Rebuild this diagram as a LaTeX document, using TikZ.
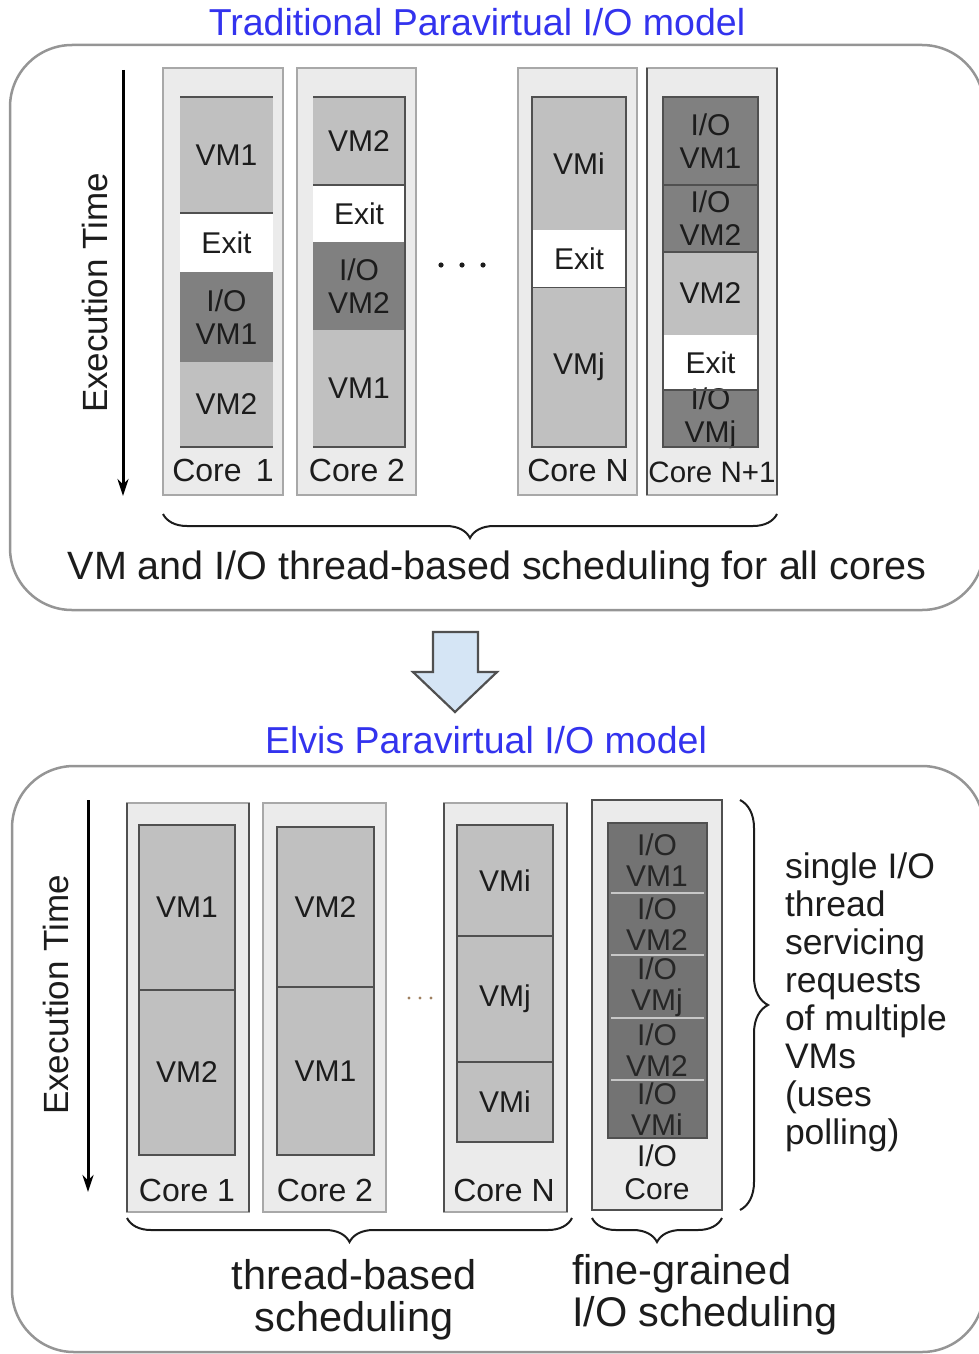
\documentclass[tikz,border=0pt]{standalone}
\usepackage{fontspec}
\setmainfont{Liberation Sans}
\usetikzlibrary{arrows.meta, decorations.pathreplacing, calc}

\definecolor{titleblue}{HTML}{3333EE}
\definecolor{panelgray}{HTML}{959595}
\definecolor{colfill}{HTML}{EBEBEB}
\definecolor{colline}{HTML}{A8A8A8}
\definecolor{coldark}{HTML}{505050}
\definecolor{vmgray}{HTML}{C0C0C0}
\definecolor{iogray}{HTML}{808080}
\definecolor{iodeep}{HTML}{737373}
\definecolor{inkgray}{HTML}{1C1C1C}
\definecolor{arrowblue}{HTML}{D5E5F5}

% a labelled block: style, x1, y1, x2, y2, name, text
\newcommand\tblock[7]{%
  \path[#1] (#2,#3) rectangle (#4,#5);
  \node[lbl] (#6) at ({(#2+#4)/2},{(#3+#5)/2}) {#7};}

\begin{document}
\begin{tikzpicture}[x=1pt,y=-1pt,
  every node/.style={inner sep=0pt, outer sep=0pt},
  lbl/.style={font=\fontsize{30}{33}\selectfont, text=inkgray, align=center},
  corelbl/.style={font=\fontsize{32}{34}\selectfont, text=inkgray, align=center},
  title/.style={font=\fontsize{37.5}{40}\selectfont, text=titleblue},
  panel/.style={draw=panelgray, line width=2.5pt, rounded corners=62pt},
  column/.style={draw=colline, fill=colfill, line width=1.5pt},
  darkcolumn/.style={draw=coldark, fill=colfill, line width=1.5pt},
  vm/.style={fill=vmgray},
  io/.style={fill=iogray},
  exitblk/.style={fill=white},
  stackline/.style={draw=coldark, line width=1.6pt},
  timearrow/.style={line width=3pt, -{Stealth[length=17pt, width=11pt]}},
  timelbl/.style={font=\fontsize{35}{38}\selectfont, text=inkgray, rotate=90},
  bracestyle/.style={draw=inkgray, line width=2pt, decorate},
  note/.style={font=\fontsize{41.5}{42}\selectfont, text=inkgray},
]
\useasboundingbox (0,0) rectangle (979,1354);
\clip (0,0) rectangle (979,1354);

% ---------------- traditional model ----------------
\node[title] (t1) at (477,22) {Traditional Paravirtual I/O model};
\draw[panel] (10,45) rectangle (984,610);

\coordinate (ta1) at (123,70);
\coordinate (ta2) at (123,496);
\draw[timearrow] (ta1) -- (ta2);
\node[timelbl] (tl1) at (95,293) {Execution Time};

% core columns
\path[column] (163,68) rectangle (283,495);
\path[column] (297,68) rectangle (416,495);
\path[column] (518,68) rectangle (637,495);
\path[column] (647,68) rectangle (777,495);
\draw[coldark, line width=1.6pt] (647,68) -- (647,495) (777,68) -- (777,495);

% Core 1
\tblock{vm}{180}{97}{273}{213}{a1}{VM1}
\tblock{exitblk}{180}{213}{273}{272}{a2}{Exit}
\tblock{io}{180}{272}{273}{362}{a3}{I/O\\VM1}
\tblock{vm}{180}{362}{273}{447}{a4}{VM2}
\draw[stackline] (180,97) -- (273,97) (180,213) -- (273,213) (180,447) -- (273,447);
\node[corelbl] (c1) at (223,470) {Core\, 1};

% Core 2
\tblock{vm}{313}{97}{405}{185}{b1}{VM2}
\tblock{exitblk}{313}{185}{405}{242}{b2}{Exit}
\tblock{io}{313}{242}{405}{330}{b3}{I/O\\VM2}
\tblock{vm}{313}{330}{405}{447}{b4}{VM1}
\draw[stackline] (313,97) -- (405,97) -- (405,447) -- (313,447) (313,185) -- (405,185);
\node[corelbl] (c2) at (357,470) {Core 2};

% Core N
\tblock{vm}{532}{97}{626}{230}{n1}{VMi}
\tblock{exitblk}{532}{230}{626}{287}{n2}{Exit}
\tblock{vm}{532}{287}{626}{447}{n3}{VMj}
\draw[stackline] (532,97) rectangle (626,447);
\draw[coldark, line width=1pt] (532,287) -- (626,287);
\node[corelbl] (cn) at (578,470) {Core N};

% Core N+1
\tblock{io}{663}{97}{758}{185}{m1}{I/O\\VM1}
\tblock{io}{663}{185}{758}{252}{m2}{I/O\\VM2}
\tblock{vm}{663}{252}{758}{335}{m3}{VM2}
\tblock{exitblk}{663}{335}{758}{390}{m4}{Exit}
\tblock{io}{663}{390}{758}{447}{m5}{I/O\\VMj}
\draw[stackline] (663,97) rectangle (758,447);
\draw[stackline] (663,185) -- (758,185) (663,252) -- (758,252) (663,390) -- (758,390);
\node[corelbl, font=\fontsize{29.5}{30}\selectfont] (cn1) at (712,472) {Core N+1};

% ellipsis between the columns
\foreach \dx in {441,462,483} \fill[inkgray] (\dx,265) circle (2.6pt);

% brace and caption
\coordinate (br1a) at (777,514);
\coordinate (br1b) at (163,514);
\draw[bracestyle, decoration={brace, amplitude=24pt}] (br1a) -- (br1b);
\node[font=\fontsize{39.5}{42}\selectfont, text=inkgray] (cap1) at (497,569)
  {VM and I/O thread-based scheduling for all cores};

% ---------------- transition arrow ----------------
\draw[fill=arrowblue, draw=coldark, line width=2.2pt, line join=miter]
  (433,632) -- (478,632) -- (478,672) -- (497,672) -- (455,712)
  -- (413,672) -- (433,672) -- cycle;

% ---------------- Elvis model ----------------
\node[title] (t2) at (486,740) {Elvis Paravirtual I/O model};
\draw[panel] (12,766) rectangle (984,1352);

\coordinate (tb1) at (88,800);
\coordinate (tb2) at (88,1192);
\draw[timearrow] (tb1) -- (tb2);
\node[timelbl] (tl2) at (56,995) {Execution Time};

% core columns
\path[column] (127,803) rectangle (249,1212);
\draw[coldark, line width=1.6pt] (127,803) -- (127,1212) (249,803) -- (249,1212);
\path[column] (263,803) rectangle (386,1212);
\path[column] (444,803) rectangle (567,1212);
\draw[coldark, line width=1.6pt] (444,803) -- (444,1212) (567,803) -- (567,1212);
\path[darkcolumn] (592,800) rectangle (722,1210);

% Core 1
\tblock{vm}{139}{825}{235}{990}{p1}{VM1}
\tblock{vm}{139}{990}{235}{1155}{p2}{VM2}
\draw[stackline] (139,825) rectangle (235,1155) (139,990) -- (235,990);
\node[corelbl] (d1) at (187,1190) {Core 1};

% Core 2
\tblock{vm}{277}{827}{374}{987}{q1}{VM2}
\tblock{vm}{277}{987}{374}{1155}{q2}{VM1}
\draw[stackline] (277,827) rectangle (374,1155) (277,987) -- (374,987);
\node[corelbl] (d2) at (325,1190) {Core 2};

% Core N
\tblock{vm}{457}{825}{553}{936}{r1}{VMi}
\tblock{vm}{457}{936}{553}{1062}{r2}{VMj}
\tblock{vm}{457}{1062}{553}{1142}{r3}{VMi}
\draw[stackline] (457,825) rectangle (553,1142) (457,936) -- (553,936) (457,1062) -- (553,1062);
\node[corelbl] (dn) at (504,1190) {Core N};

% I/O core: one polling thread serving the VMs in turn
\path[fill=iodeep] (608,823) rectangle (707,1138);
\draw[stackline] (608,823) rectangle (707,1138);
\foreach \yy in {893,955,1018,1080}
  \draw[white, opacity=0.6, line width=1.2pt] (611,\yy) -- (704,\yy);
\node[lbl, text=black!85] (s1) at (657,860) {I/O\\[-2pt]VM1};
\node[lbl, text=black!85] (s2) at (657,924) {I/O\\[-2pt]VM2};
\node[lbl, text=black!85] (s3) at (657,987) {I/O\\[-2pt]VMj};
\node[lbl, text=black!85] (s4) at (657,1050) {I/O\\[-2pt]VM2};
\node[lbl, text=black!85] (s5) at (657,1109) {I/O\\[-2pt]VMi};
\node[lbl] (dio) at (657,1172) {I/O\\Core};

% ellipsis between the columns
\foreach \dx in {409,420,431} \fill[brown!50!gray] (\dx,998) circle (1.6pt);

% right brace and note
\coordinate (br2a) at (740,800);
\coordinate (br2b) at (740,1210);
\draw[bracestyle, decoration={brace, amplitude=28pt}] (br2a) -- (br2b);
\node[font=\fontsize{35.5}{38}\selectfont, text=inkgray, align=left, anchor=north west] (note1) at (785,853)
  {single I/O\\thread\\servicing\\requests\\of multiple\\VMs\\(uses\\polling)};

% bottom braces and captions
\coordinate (br3a) at (572,1218);
\coordinate (br3b) at (127,1218);
\draw[bracestyle, decoration={brace, amplitude=24pt}] (br3a) -- (br3b);
\coordinate (br4a) at (722,1218);
\coordinate (br4b) at (592,1218);
\draw[bracestyle, decoration={brace, amplitude=24pt}] (br4a) -- (br4b);
\node[note, align=center] (cap2) at (354,1300) {thread-based\\scheduling};
\node[note, align=left, anchor=west] (cap3) at (572,1295) {fine-grained\\I/O scheduling};
\end{tikzpicture}
\end{document}
